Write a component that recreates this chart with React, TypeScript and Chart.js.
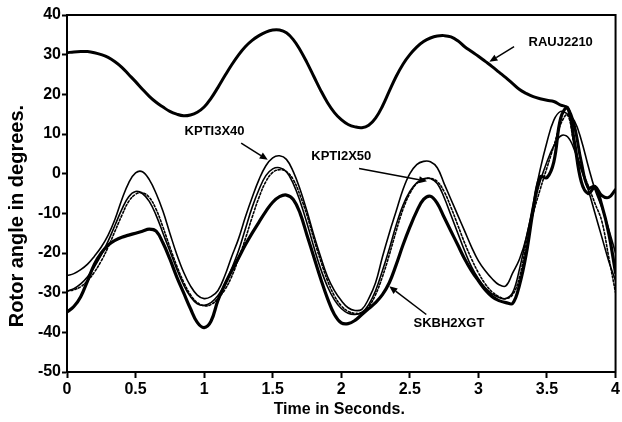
import React, { useEffect, useRef } from "react";
import { Chart, registerables } from "chart.js";

Chart.register(...registerables);

// Time in seconds
const TIME = [
  0, 0.05, 0.1, 0.15, 0.2, 0.25, 0.3, 0.35, 0.4, 0.45,
  0.5, 0.55, 0.6, 0.65, 0.7, 0.75, 0.8, 0.85, 0.9, 0.95,
  1.0, 1.05, 1.1, 1.15, 1.2, 1.25, 1.3, 1.35, 1.4, 1.45,
  1.5, 1.55, 1.6, 1.65, 1.7, 1.75, 1.8, 1.85, 1.9, 1.95,
  2.0, 2.05, 2.1, 2.15, 2.2, 2.25, 2.3, 2.35, 2.4, 2.45,
  2.5, 2.55, 2.6, 2.65, 2.7, 2.75, 2.8, 2.85, 2.9, 2.95,
  3.0, 3.05, 3.1, 3.15, 3.2, 3.25, 3.3, 3.35, 3.4, 3.45,
  3.5, 3.55, 3.6, 3.65, 3.7, 3.75, 3.8, 3.85, 3.9, 3.95,
  4.0,
];

const RAUJ2210 = [
  30.5, 30.7, 30.8, 30.8, 30.5, 30, 29.3, 28.2, 26.8, 25,
  23.2, 21.3, 19.5, 18, 16.8, 15.7, 15, 14.6, 14.8, 15.5,
  16.8, 19, 21.7, 24.6, 27.4, 29.9, 32, 33.6, 34.8, 35.7,
  36.2, 36.2, 35.5, 33.8, 31.2, 28, 24.5, 21, 17.9, 15.4,
  13.6, 12.4, 11.8, 11.6, 12.2, 14, 17, 20.8, 24.5, 27.6,
  30, 31.9, 33.3, 34.2, 34.7, 34.8, 34.5, 33.5, 32, 30.8,
  29.6, 28.3, 27, 25.6, 24.2, 22.7, 21.2, 20.2, 19.4, 18.9,
  18.5, 18.2, 17.3, 16.6, 12, 3, -3.5, -3.2, -5.5, -6,
  -4,
];

const KPTI3X40 = [
  -25.7, -25.2, -24.2, -22.8, -20.8, -18.5, -15.5, -11.5, -6.5, -2.3,
  0.2, 0.5, -1.5, -5, -9.5, -15, -20.3, -24.8, -28.3, -30.6,
  -31.5, -31, -29.5, -25.8, -21, -16.5, -11, -6, -1.5, 2,
  4, 4.5, 3.6, 0.5, -4, -9.5, -15.5, -21, -26, -29.5,
  -32, -33.8, -34.5, -34.2, -31.5, -27.5, -21, -15, -9.5, -4,
  0, 2.3, 3.1, 3, 1.5, -2.5, -6.5, -10.5, -14.5, -18.5,
  -22, -24.5, -26.5, -28, -28.3, -25, -21.5, -16, -7.5, 1,
  8, 13.5, 15.7, 15, 13.3, 8.5, 2, -4, -8.5, -14,
  -20,
];

const KPTI2X50 = [
  -29.6, -29, -27.8, -26, -23.5, -20.5, -17, -13, -9, -5.8,
  -4.5, -5, -7, -10.5, -15, -19.5, -24, -28, -31, -32.8,
  -33.2, -32.5, -30.8, -28, -24, -19.5, -14, -8.5, -4, -0.5,
  1.2, 1.5, 0.5, -2.5, -7, -12.5, -18.5, -24, -28.5, -31.8,
  -34, -35.2, -35.5, -35, -33, -29.5, -24.5, -19, -13, -8,
  -4.5, -2.3, -1.3, -1.2, -2.5, -6, -10.5, -15, -19.5, -23.5,
  -26.5, -28.8, -30.3, -31.2, -31.5, -30, -24, -16, -8.5, -2,
  3, 7, 9.5, 9.3, 6, 1, -4, -10, -16, -22,
  -27,
];

const UNLABELLED_DOTTED = [
  -29.6, -29.3, -28.5, -27, -24.8, -22, -18.5, -14.5, -10.5, -7,
  -5.2, -4.8, -6, -9, -13.5, -18.5, -23.2, -27.3, -30.5, -32.5,
  -33.3, -33, -31.5, -29.3, -26, -21.5, -16.5, -11, -6, -2,
  0.3, 1, 0.5, -1.5, -5.5, -10.5, -16.5, -22, -27, -30.8,
  -33.3, -34.7, -35.2, -35, -33.5, -30.5, -26, -20.5, -14.5, -9,
  -5, -2.5, -1.5, -1.2, -2, -4.5, -8.5, -13, -17.5, -21.5,
  -25, -27.8, -29.8, -31, -31.5, -30.5, -26, -17.5, -10, -4,
  1.5, 7, 12.5, 14.8, 7, 1.5, -3, -7.5, -12, -21,
  -30,
];

const SKBH2XGT = [
  -34.9, -33.5, -31, -27, -22.8, -20, -18, -16.8, -16, -15.5,
  -15, -14.5, -14, -14.5, -17.5, -21.5, -26, -30, -34, -37.5,
  -38.8, -37.2, -32, -28, -24.5, -21.3, -18, -15, -12.2, -9.5,
  -7.2, -5.8, -5.4, -6.5, -10, -15.5, -21, -26.5, -31.5, -35.5,
  -37.6, -37.8, -37, -35.5, -34, -32.5, -30.5, -27.5, -23, -18,
  -13.5, -9.5, -6.5, -5.7, -7.5, -11, -14.5, -18, -21.5, -24.5,
  -27, -29.3, -31, -32, -32.5, -32.7, -28, -20, -9, -0.8,
  -1, 3, 14, 16.6, 8, -2, -5, -3.5, -8, -15,
  -25,
];

const X_TICKS = [0, 0.5, 1, 1.5, 2, 2.5, 3, 3.5, 4];
const Y_TICKS = [-50, -40, -30, -20, -10, 0, 10, 20, 30, 40];

const X_TITLE = "Time in Seconds.";
const Y_TITLE = "Rotor angle in degrees.";

// Curve labels with arrow (text anchor, arrow start, arrow tip) in data units
const LABEL_TEXT = ["RAUJ2210", "KPTI3X40", "KPTI2X50", "SKBH2XGT"];
const LABEL_AT = [
  [3.6, 33.2],
  [1.076, 10.6],
  [2.0, 4.3],
  [2.785, -37.8],
];
const ARROW_FROM = [
  [3.26, 32],
  [1.27, 7.7],
  [2.13, 1.3],
  [2.62, -35.5],
];
const ARROW_TO = [
  [3.08, 28.2],
  [1.464, 3.5],
  [2.625, -1.9],
  [2.35, -28.4],
];

const FONT = "'Liberation Sans', Arial, sans-serif";

export default function App() {
  const ref = useRef<HTMLCanvasElement>(null);

  useEffect(() => {
    document.body.style.margin = "0";
    const canvas = ref.current!;
    const pts = (vals: number[]) => TIME.map((t, i) => ({ x: t, y: vals[i] }));

    const overlay = {
      id: "overlay",
      afterDraw(chart: any) {
        const { ctx, chartArea, scales } = chart;
        const xs = scales.x;
        const ys = scales.y;
        ctx.save();
        // frame
        ctx.strokeStyle = "#000";
        ctx.lineWidth = 2;
        ctx.strokeRect(chartArea.left, chartArea.top, chartArea.right - chartArea.left, chartArea.bottom - chartArea.top);

        // curve labels and arrows
        ctx.fillStyle = "#000";
        ctx.font = `bold 13px ${FONT}`;
        ctx.textAlign = "center";
        ctx.textBaseline = "middle";
        LABEL_TEXT.forEach((t, i) => {
          ctx.fillText(t, xs.getPixelForValue(LABEL_AT[i][0]), ys.getPixelForValue(LABEL_AT[i][1]));
          const x1 = xs.getPixelForValue(ARROW_FROM[i][0]);
          const y1 = ys.getPixelForValue(ARROW_FROM[i][1]);
          const x2 = xs.getPixelForValue(ARROW_TO[i][0]);
          const y2 = ys.getPixelForValue(ARROW_TO[i][1]);
          const a = Math.atan2(y2 - y1, x2 - x1);
          const hl = 8;
          const hw = 3.5;
          const bx = x2 - hl * Math.cos(a);
          const by = y2 - hl * Math.sin(a);
          ctx.lineWidth = 1.5;
          ctx.beginPath();
          ctx.moveTo(x1, y1);
          ctx.lineTo(bx, by);
          ctx.stroke();
          ctx.beginPath();
          ctx.moveTo(x2, y2);
          ctx.lineTo(bx + hw * Math.sin(a), by - hw * Math.cos(a));
          ctx.lineTo(bx - hw * Math.sin(a), by + hw * Math.cos(a));
          ctx.closePath();
          ctx.fill();
        });

        // axis titles
        ctx.font = `bold 16px ${FONT}`;
        ctx.fillText(X_TITLE, (chartArea.left + chartArea.right) / 2 - 2, chartArea.bottom + 38);
        ctx.font = `bold 20px ${FONT}`;
        ctx.translate(17, 216);
        ctx.rotate(-Math.PI / 2);
        ctx.fillText(Y_TITLE, 0, 0);
        ctx.restore();
      },
    };

    const chart = new Chart(canvas, {
      type: "line",
      data: {
        datasets: [
          { label: "RAUJ2210", data: pts(RAUJ2210), borderColor: "#000", borderWidth: 3 },
          { label: "KPTI3X40", data: pts(KPTI3X40), borderColor: "#000", borderWidth: 1.6 },
          { label: "KPTI2X50", data: pts(KPTI2X50), borderColor: "#000", borderWidth: 1.6 },
          { label: "dotted", data: pts(UNLABELLED_DOTTED), borderColor: "#000", borderWidth: 1.6, borderDash: [2, 2] },
          { label: "SKBH2XGT", data: pts(SKBH2XGT), borderColor: "#000", borderWidth: 3.2 },
        ],
      },
      options: {
        animation: false,
        responsive: false,
        maintainAspectRatio: false,
        layout: { padding: { top: 15, right: 5, left: 0, bottom: 0 } },
        elements: {
          point: { radius: 0 },
          line: { tension: 0.4, fill: false, borderJoinStyle: "round", borderCapStyle: "round" },
        },
        plugins: { legend: { display: false }, tooltip: { enabled: false }, title: { display: false } },
        scales: {
          x: {
            type: "linear",
            min: 0,
            max: 4,
            afterBuildTicks: (s: any) => {
              s.ticks = X_TICKS.map((v) => ({ value: v }));
            },
            afterFit: (s: any) => {
              s.height = 50;
            },
            ticks: {
              color: "#000",
              font: { family: FONT, size: 16, weight: "bold" },
              padding: 2,
              maxRotation: 0,
              autoSkip: false,
              callback: (v: any) => String(v),
            },
            grid: { drawOnChartArea: false, tickLength: 6, tickColor: "#000", tickWidth: 2 },
            border: { color: "#000", width: 2 },
          },
          y: {
            type: "linear",
            min: -50,
            max: 40,
            afterBuildTicks: (s: any) => {
              s.ticks = Y_TICKS.map((v) => ({ value: v }));
            },
            afterFit: (s: any) => {
              s.width = 67;
            },
            ticks: {
              color: "#000",
              font: { family: FONT, size: 16, weight: "bold" },
              padding: 1,
              autoSkip: false,
              callback: (v: any) => String(v),
            },
            grid: { drawOnChartArea: false, tickLength: 5, tickColor: "#000", tickWidth: 2 },
            border: { color: "#000", width: 2 },
          },
        },
      },
      plugins: [overlay],
    });
    return () => chart.destroy();
  }, []);

  return (
    <div style={{ position: "absolute", left: 0, top: 0, width: 622, height: 422, background: "#fff" }}>
      <canvas ref={ref} width={622} height={422} style={{ display: "block" }} />
    </div>
  );
}
